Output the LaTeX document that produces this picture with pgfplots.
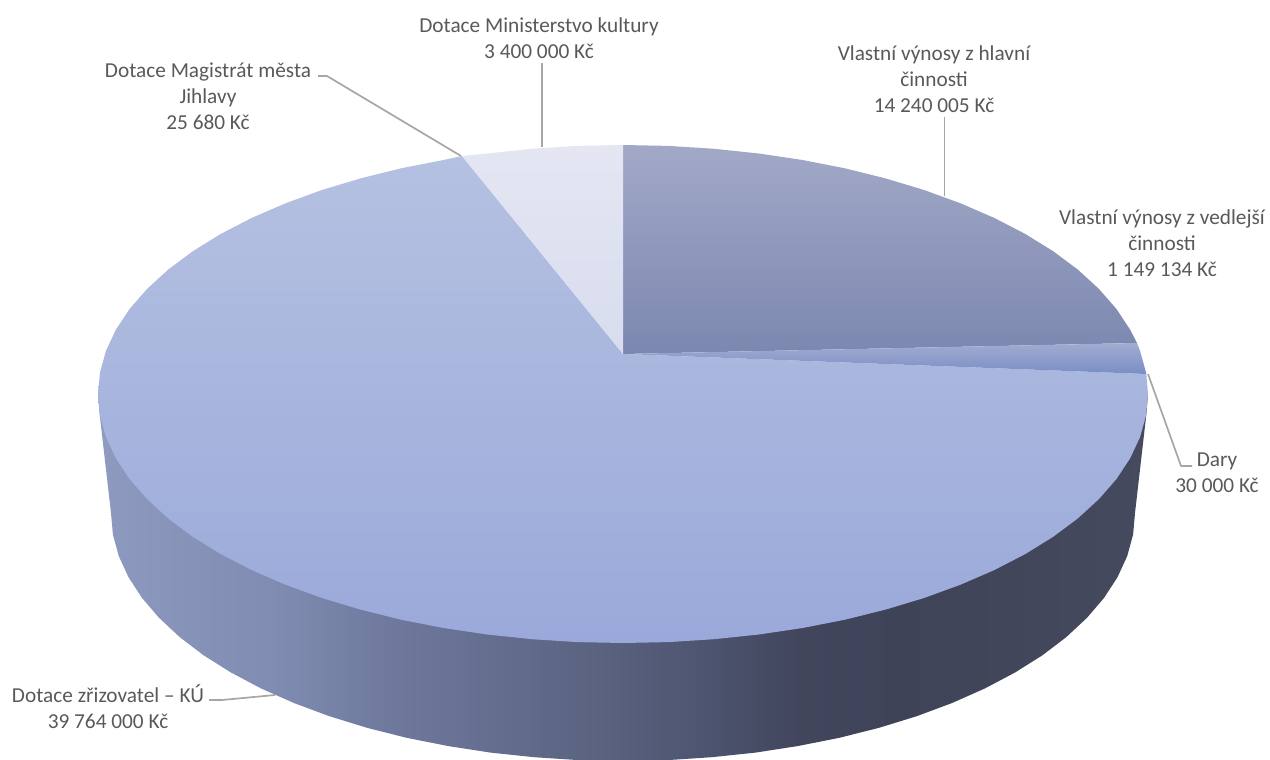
\documentclass[border=0pt]{standalone}
\usepackage{fontspec}
\setmainfont{Carlito}
\usepackage{pgfplots}
\pgfplotsset{compat=1.18}
\definecolor{lab}{HTML}{595959}
\definecolor{lead}{HTML}{A6A6A6}
\definecolor{sa}{HTML}{909CC2}
\definecolor{sb}{HTML}{8C98BE}
\definecolor{sc}{HTML}{7F8BB0}
\definecolor{sd}{HTML}{6F7A9E}
\definecolor{se}{HTML}{5A6280}
\definecolor{sf}{HTML}{4D5570}
\definecolor{sg}{HTML}{41465C}
\definecolor{sh}{HTML}{3F4358}
\definecolor{si}{HTML}{454A5E}
\definecolor{bigt}{HTML}{B5C1E1}
\definecolor{bigm}{HTML}{A5B3DC}
\definecolor{bigb}{HTML}{9AA9DA}
\definecolor{dkt}{HTML}{A2A9C7}
\definecolor{dkb}{HTML}{7C87B0}
\definecolor{mdt}{HTML}{A2ABD0}
\definecolor{mdb}{HTML}{7A8EC5}
\definecolor{lgt}{HTML}{E4E6F2}
\definecolor{lgb}{HTML}{D8DCEE}
\pgfdeclarehorizontalshading{sideshade}{100bp}{color(0bp)=(sa); color(25bp)=(sa); color(25.8bp)=(sb); color(33.7bp)=(sc); color(38.4bp)=(sd); color(48.9bp)=(se); color(53.7bp)=(sf); color(58.4bp)=(sg); color(63.2bp)=(sh); color(75bp)=(si); color(100bp)=(si)}
\tikzset{
  lbl/.style={font=\fontsize{21.3}{26}\selectfont, text=lab, align=center, inner sep=0pt, anchor=center},
  ldr/.style={draw=lead, line width=1.7pt, fill=none, line join=round},
}
\begin{document}
\begin{tikzpicture}
\useasboundingbox (0,0) rectangle (1270pt,760pt);
\begin{axis}[
  at={(0pt,0pt)}, anchor=south west,
  scale only axis, width=1270pt, height=760pt,
  xmin=0, xmax=1270, ymin=0, ymax=760, y dir=reverse,
  hide axis, clip=true,
]
% side wall
\addplot[shade, shading=sideshade, draw=none, forget plot] coordinates {
(98,394)(99.5,413)(111,513)(112.9,534.6)(118.8,556.1)(128.5,577.2)(141.9,597.8)(159,617.8)(179.6,637)(203.6,655.3)(230.8,672.4)(261,688.4)(293.9,703)(329.3,716.2)(367,727.8)(406.6,737.8)(447.9,746)(490.5,752.6)(534.1,757.2)(578.4,760.1)(623,761)(667.6,760.1)(711.9,757.2)(755.5,752.6)(798.1,746)(839.4,737.8)(879,727.8)(916.7,716.2)(952.1,703)(985,688.4)(1015.2,672.4)(1042.4,655.3)(1066.4,637)(1087,617.8)(1104.1,597.8)(1117.5,577.2)(1127.2,556.1)(1133.1,534.6)(1135,513)(1146.5,413)(1148,394)
} -- cycle;
% Dotace zrizovatel - KU (39 764 000)
\addplot[top color=bigt, middle color=bigm, bottom color=bigb, draw=none, forget plot] coordinates {
(623,354)(1146.3,374)(1148,394)(1146,415.7)(1140,437.2)(1130.1,458.4)(1116.3,479.2)(1098.8,499.2)(1077.7,518.5)(1053.1,536.8)(1025.2,554.1)(994.2,570.1)(960.5,584.7)(924.1,598)(885.5,609.6)(844.9,619.7)(802.6,628)(758.9,634.5)(714.1,639.2)(668.8,642.1)(623,643)(577.2,642.1)(531.9,639.2)(487.1,634.5)(443.4,628)(401.1,619.7)(360.5,609.6)(321.9,598)(285.5,584.7)(251.8,570.1)(220.8,554.1)(192.9,536.8)(168.3,518.5)(147.2,499.2)(129.7,479.2)(115.9,458.4)(106,437.2)(100,415.7)(98,394)(100,372.3)(106,350.8)(115.9,329.6)(129.7,308.8)(147.2,288.8)(168.3,269.5)(192.9,251.2)(220.8,233.9)(251.8,217.9)(285.5,203.3)(321.9,190)(360.5,178.4)(401.1,168.3)(443.4,160)(462,156)
} -- cycle;
% Vlastni vynosy z hlavni cinnosti (14 240 005)
\addplot[top color=dkt, bottom color=dkb, draw=none, forget plot] coordinates {
(623,354)(623,145)(668.8,145.9)(714.1,148.8)(758.9,153.5)(802.6,160)(844.9,168.3)(885.5,178.4)(924.1,190)(960.5,203.3)(994.2,217.9)(1025.2,233.9)(1053.1,251.2)(1077.7,269.5)(1098.8,288.8)(1116.3,308.8)(1130.1,329.6)(1137,343)
} -- cycle;
% Vlastni vynosy z vedlejsi cinnosti (1 149 134)
\addplot[top color=mdt, bottom color=mdb, draw=none, forget plot] coordinates {
(623,354)(1137,343)(1140,350.8)(1146,372.3)(1146.3,374)
} -- cycle;
% Dotace Ministerstvo kultury (3 400 000)
\addplot[top color=lgt, bottom color=lgb, draw=none, forget plot] coordinates {
(623,354)(462,156)(487.1,153.5)(531.9,148.8)(577.2,145.9)(623,145)
} -- cycle;
% leader lines
\addplot[ldr, forget plot] coordinates {(542,63)(542,147)};
\addplot[ldr, forget plot] coordinates {(318,76)(327,76)(461,156)};
\addplot[ldr, forget plot] coordinates {(944.5,117)(944.5,196)};
\addplot[ldr, forget plot] coordinates {(1148,374)(1181,466)(1192,466)};
\addplot[ldr, forget plot] coordinates {(209,700)(222,700)(275,695)};
% labels
\node[lbl] at (axis cs:539,38) {Dotace Ministerstvo kultury\\3 400 000 Kč};
\node[lbl] at (axis cs:208,96) {Dotace Magistrát města\\Jihlavy\\25 680 Kč};
\node[lbl] at (axis cs:934,79) {Vlastní výnosy z hlavní\\činnosti\\14 240 005 Kč};
\node[lbl] at (axis cs:1162,243) {Vlastní výnosy z vedlejší\\činnosti\\1 149 134 Kč};
\node[lbl] at (axis cs:1217,473) {Dary\\30 000 Kč};
\node[lbl] at (axis cs:108,707) {Dotace zřizovatel – KÚ\\39 764 000 Kč};
\end{axis}
\end{tikzpicture}
\end{document}
